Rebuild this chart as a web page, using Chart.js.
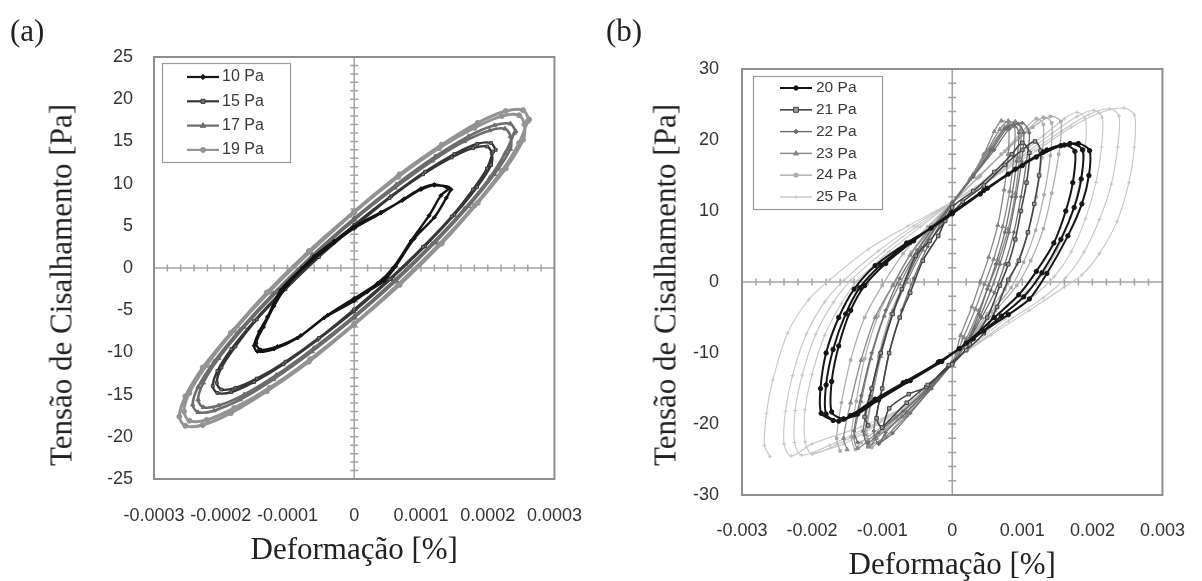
<!DOCTYPE html>
<html><head><meta charset="utf-8">
<script src="https://cdn.jsdelivr.net/npm/chart.js@4.4.1/dist/chart.umd.min.js"></script>
<style>
html,body{margin:0;padding:0;background:#fff;}
#wrap{position:relative;width:1202px;height:581px;overflow:hidden;background:#fff;}
canvas{position:absolute;top:0;}
.lbl{position:absolute;font-family:"Liberation Serif","Times New Roman",serif;font-size:31px;color:#222;line-height:1;white-space:nowrap;}
.ytitle{transform:translate(-50%,-50%) rotate(-90deg);}
</style></head>
<body><div id="wrap">
<canvas id="ca" width="600" height="581" style="left:0"></canvas>
<canvas id="cb" width="602" height="581" style="left:600px"></canvas>
<div class="lbl" style="left:10px;top:15px">(a)</div>
<div class="lbl" style="left:606px;top:15px">(b)</div>
<div class="lbl ytitle" style="left:61px;top:285px">Tensão de Cisalhamento [Pa]</div>
<div class="lbl ytitle" style="left:665px;top:285px">Tensão de Cisalhamento [Pa]</div>
</div>
<script>
// ---------- Panel (a) data: [strain, stress] ----------
const a10 = [[1.45e-4,9.3],[1.38e-4,8.3],[1.2e-4,6.0],[0.9e-4,3.5],[0.62e-4,0.2],[0.45e-4,-1.5],[0.2e-4,-2.8],[0,-3.9],[-0.45e-4,-5.9],[-0.85e-4,-8.3],[-1.2e-4,-9.6],[-1.45e-4,-9.9],[-1.5e-4,-9.2],[-1.42e-4,-7.5],[-1.3e-4,-5.8],[-1.1e-4,-2.6],[-0.78e-4,0],[-0.6e-4,1.4],[-0.3e-4,3.2],[0,4.9],[0.4e-4,6.6],[0.72e-4,8.0],[1.0e-4,9.3],[1.2e-4,9.8],
[1.42e-4,9.5],[1.3e-4,8.6],[1.12e-4,6.2],[0.85e-4,3.2],[0.58e-4,0],[0.35e-4,-1.8],[0,-3.6],[-0.4e-4,-5.6],[-0.8e-4,-8.0],[-1.15e-4,-9.3],[-1.4e-4,-9.7],[-1.47e-4,-8.9],[-1.36e-4,-7.0],[-1.2e-4,-4.5],[-1.0e-4,-2.0],[-0.72e-4,0.3],[-0.3e-4,3.0],[0,4.7],[0.4e-4,6.5],[0.75e-4,8.2],[1.0e-4,9.4],[1.2e-4,9.9],[1.38e-4,9.6]];
const a15 = [[2.12e-4,14.0],[2.05e-4,14.8],[1.84e-4,14.7],[1.5e-4,13.5],[1.06e-4,11.4],[0.55e-4,8.5],[0,5.1],[-0.55e-4,1.3],[-1.06e-4,-2.6],[-1.5e-4,-6.3],[-1.84e-4,-9.6],[-2.05e-4,-12.2],[-2.12e-4,-14.0],[-2.05e-4,-14.8],[-1.84e-4,-14.7],[-1.5e-4,-13.5],[-1.06e-4,-11.4],[-0.55e-4,-8.5],[0,-5.1],[0.55e-4,-1.3],[1.06e-4,2.6],[1.5e-4,6.3],[1.84e-4,9.6],[2.05e-4,12.2],
[2.06e-4,13.6],[1.99e-4,14.4],[1.78e-4,14.2],[1.46e-4,13.1],[1.03e-4,11.1],[0.53e-4,8.3],[0,4.9],[-0.53e-4,1.3],[-1.03e-4,-2.5],[-1.46e-4,-6.1],[-1.78e-4,-9.3],[-1.99e-4,-11.8],[-2.06e-4,-13.6],[-1.99e-4,-14.4],[-1.78e-4,-14.2],[-1.46e-4,-13.1],[-1.03e-4,-11.1],[-0.53e-4,-8.3],[0,-4.9],[0.53e-4,-1.3],[1.03e-4,2.5],[1.46e-4,6.1],[1.78e-4,9.3],[1.99e-4,11.8],[2.08e-4,13.8]];
const a17 = [[2.42e-4,16.2],[2.34e-4,17.1],[2.1e-4,16.9],[1.71e-4,15.6],[1.21e-4,13.2],[0.63e-4,9.9],[0,5.9],[-0.63e-4,1.5],[-1.21e-4,-3.0],[-1.71e-4,-7.3],[-2.1e-4,-11.1],[-2.34e-4,-14.1],[-2.42e-4,-16.2],[-2.34e-4,-17.1],[-2.1e-4,-16.9],[-1.71e-4,-15.6],[-1.21e-4,-13.2],[-0.63e-4,-9.9],[0,-5.9],[0.63e-4,-1.5],[1.21e-4,3.0],[1.71e-4,7.3],[2.1e-4,11.1],[2.34e-4,14.1],
[2.34e-4,15.6],[2.26e-4,16.5],[2.03e-4,16.3],[1.65e-4,15.0],[1.17e-4,12.7],[0.61e-4,9.5],[0,5.7],[-0.61e-4,1.4],[-1.17e-4,-2.9],[-1.65e-4,-7.0],[-2.03e-4,-10.7],[-2.26e-4,-13.6],[-2.34e-4,-15.6],[-2.26e-4,-16.5],[-2.03e-4,-16.3],[-1.65e-4,-15.0],[-1.17e-4,-12.7],[-0.61e-4,-9.5],[0,-5.7],[0.61e-4,-1.4],[1.17e-4,2.9],[1.65e-4,7.0],[2.03e-4,10.7],[2.26e-4,13.6],[2.4e-4,16.0]];
const a19 = [[2.62e-4,17.6],[2.53e-4,18.7],[2.27e-4,18.6],[1.85e-4,17.2],[1.31e-4,14.6],[0.68e-4,11.1],[0,6.7],[-0.68e-4,2.0],[-1.31e-4,-2.9],[-1.85e-4,-7.7],[-2.27e-4,-11.8],[-2.53e-4,-15.2],[-2.62e-4,-17.6],[-2.53e-4,-18.7],[-2.27e-4,-18.6],[-1.85e-4,-17.2],[-1.31e-4,-14.6],[-0.68e-4,-11.1],[0,-6.7],[0.68e-4,-2.0],[1.31e-4,2.9],[1.85e-4,7.7],[2.27e-4,11.8],[2.53e-4,15.2],
[2.55e-4,17.0],[2.47e-4,18.1],[2.21e-4,18.0],[1.8e-4,16.6],[1.27e-4,14.2],[0.66e-4,10.8],[0,6.6],[-0.66e-4,1.9],[-1.27e-4,-2.8],[-1.8e-4,-7.4],[-2.21e-4,-11.5],[-2.47e-4,-14.8],[-2.55e-4,-17.0],[-2.47e-4,-18.1],[-2.21e-4,-18.0],[-1.8e-4,-16.6],[-1.27e-4,-14.2],[-0.66e-4,-10.8],[0,-6.6],[0.66e-4,-1.9],[1.27e-4,2.8],[1.8e-4,7.4],[2.21e-4,11.5],[2.47e-4,14.8],[2.6e-4,17.4]];

// ---------- Panel (b) data ----------
const b20 = [[-1.7e-3,-19.5],[-1.87e-3,-18.5],[-1.88e-3,-15],[-1.8e-3,-10],[-1.62e-3,-5],[-1.4e-3,-1],[-1.1e-3,2.3],[-0.65e-3,5.5],[-0.3e-3,7.6],[0,9.6],[0.4e-3,12.4],[0.8e-3,15.2],[1.2e-3,17.6],[1.55e-3,19.2],[1.8e-3,19.5],[1.96e-3,18.5],[1.95e-3,15],[1.85e-3,11],[1.65e-3,6.5],[1.35e-3,1.2],[1.1e-3,-2.4],[0.8e-3,-4.6],[0.45e-3,-6.9],[0.1e-3,-9.4],[-0.2e-3,-11.3],[-0.7e-3,-14.2],[-1.1e-3,-16.5],[-1.45e-3,-18.8],
[-1.62e-3,-19.6],[-1.8e-3,-18.6],[-1.8e-3,-14.5],[-1.7e-3,-9.5],[-1.52e-3,-4.5],[-1.32e-3,-0.8],[-1.02e-3,2.4],[-0.6e-3,5.6],[0,9.7],[0.45e-3,12.9],[0.9e-3,15.9],[1.3e-3,18.3],[1.68e-3,19.5],[1.86e-3,18.6],[1.84e-3,14.5],[1.74e-3,10.5],[1.55e-3,6],[1.28e-3,1.3],[1.02e-3,-2.1],[0.7e-3,-4.8],[0.3e-3,-8],[-0.18e-3,-11.2],[-0.65e-3,-14],[-1.08e-3,-16.6],[-1.4e-3,-18.7],
[-1.55e-3,-19.3],[-1.72e-3,-18.3],[-1.72e-3,-14],[-1.62e-3,-9],[-1.45e-3,-4],[-1.25e-3,-0.5],[-0.95e-3,2.6],[-0.55e-3,5.8],[0,9.8],[0.5e-3,13.2],[1.0e-3,16.4],[1.35e-3,18.6],[1.6e-3,19.3],[1.75e-3,18.4],[1.72e-3,14],[1.62e-3,10],[1.45e-3,5.5],[1.2e-3,1.5],[0.95e-3,-1.8],[0.6e-3,-5],[0.2e-3,-8.6],[-0.15e-3,-11.2],[-0.6e-3,-13.9],[-1.05e-3,-16.6],[-1.35e-3,-18.6],[-1.55e-3,-19.3]];
const b21 = [[-1.2e-3,-20.2],[-1.25e-3,-19],[-1.15e-3,-15],[-1.02e-3,-10],[-0.85e-3,-4.5],[-0.72e-3,-1],[-0.52e-3,3.7],[-0.32e-3,5.8],[-0.1e-3,8.6],[0.15e-3,11.3],[0.45e-3,13.6],[0.75e-3,16.5],[1.0e-3,18.6],[1.18e-3,19.8],[1.26e-3,18.5],[1.24e-3,15],[1.17e-3,11],[1.08e-3,7],[0.95e-3,3],[0.8e-3,0.3],[0.64e-3,-3.5],[0.45e-3,-7.2],[0.2e-3,-9.6],[-0.05e-3,-11.7],[-0.37e-3,-14.8],[-0.62e-3,-15.8],[-0.9e-3,-17.8],
[-1.0e-3,-20.5],[-1.08e-3,-19.2],[-1.0e-3,-15],[-0.9e-3,-10],[-0.75e-3,-5],[-0.6e-3,-1.5],[-0.42e-3,3],[-0.2e-3,6.5],[0,10.5],[0.3e-3,12.8],[0.6e-3,15.5],[0.85e-3,18],[1.0e-3,19.6],[1.1e-3,18.2],[1.06e-3,14],[0.98e-3,10],[0.9e-3,6],[0.8e-3,2.5],[0.68e-3,-0.5],[0.5e-3,-5],[0.25e-3,-8.8],[0,-11.6],[-0.35e-3,-14.5],[-0.65e-3,-17],[-1.0e-3,-20.5]];
const b22 = [[-1.35e-3,-22.6],[-1.4e-3,-21],[-1.3e-3,-16],[-1.15e-3,-10],[-0.95e-3,-4],[-0.75e-3,0.5],[-0.5e-3,4.5],[-0.25e-3,8],[0,11.2],[0.3e-3,15],[0.55e-3,18.6],[0.75e-3,21.6],[0.88e-3,22.2],[0.95e-3,21],[0.92e-3,17],[0.85e-3,12],[0.75e-3,7],[0.62e-3,2.5],[0.5e-3,-1],[0.38e-3,-4.5],[0.2e-3,-8.5],[0,-11.5],[-0.35e-3,-15],[-0.7e-3,-18.2],[-1.05e-3,-21.2],
[-1.2e-3,-22.7],[-1.27e-3,-21],[-1.17e-3,-16],[-1.03e-3,-10],[-0.84e-3,-4],[-0.65e-3,0.5],[-0.43e-3,4.8],[-0.2e-3,8.2],[0,11.1],[0.3e-3,14.9],[0.57e-3,18.6],[0.78e-3,21.6],[0.94e-3,22.3],[1.02e-3,21],[0.99e-3,17],[0.91e-3,12],[0.81e-3,7],[0.68e-3,2.5],[0.55e-3,-1.2],[0.4e-3,-4.8],[0.2e-3,-8.6],[0,-11.5],[-0.32e-3,-15],[-0.65e-3,-18.3],[-0.95e-3,-21.2],
[-1.05e-3,-22.8],[-1.12e-3,-21],[-1.02e-3,-16],[-0.9e-3,-10],[-0.72e-3,-4],[-0.55e-3,0.5],[-0.35e-3,5],[-0.15e-3,8.5],[0,11],[0.3e-3,14.8],[0.6e-3,18.6],[0.82e-3,21.6],[1.0e-3,22.4],[1.1e-3,21],[1.06e-3,17],[0.98e-3,12],[0.88e-3,7],[0.75e-3,2.5],[0.6e-3,-1.5],[0.42e-3,-5],[0.2e-3,-8.8],[0,-11.5],[-0.3e-3,-15],[-0.6e-3,-18.5],[-0.85e-3,-21.3],[-1.05e-3,-22.8]];
const b23 = [[-1.5e-3,-23.6],[-1.55e-3,-22],[-1.45e-3,-17],[-1.3e-3,-11],[-1.1e-3,-5],[-0.85e-3,-0.5],[-0.6e-3,3.8],[-0.3e-3,7.6],[0,11],[0.25e-3,14.5],[0.45e-3,18],[0.6e-3,21.2],[0.7e-3,22.7],[0.8e-3,22.2],[0.8e-3,18],[0.74e-3,13],[0.65e-3,8],[0.52e-3,3.5],[0.4e-3,0],[0.28e-3,-3.5],[0.12e-3,-7.5],[0,-11.3],[-0.4e-3,-15.5],[-0.8e-3,-19],[-1.2e-3,-22.3],
[-1.35e-3,-23.4],[-1.4e-3,-21.8],[-1.3e-3,-16.8],[-1.16e-3,-10.8],[-0.97e-3,-4.8],[-0.75e-3,-0.3],[-0.51e-3,4.1],[-0.25e-3,7.9],[0,11.1],[0.28e-3,14.8],[0.5e-3,18.5],[0.68e-3,21.5],[0.8e-3,22.7],[0.89e-3,21.9],[0.88e-3,17.8],[0.82e-3,12.8],[0.72e-3,7.8],[0.59e-3,3.2],[0.46e-3,-0.3],[0.33e-3,-3.8],[0.16e-3,-7.8],[0,-11.3],[-0.35e-3,-15.2],[-0.72e-3,-18.9],[-1.08e-3,-22],
[-1.2e-3,-23.2],[-1.25e-3,-21.5],[-1.15e-3,-16.5],[-1.02e-3,-10.5],[-0.85e-3,-4.5],[-0.65e-3,0],[-0.42e-3,4.5],[-0.2e-3,8.2],[0,11.2],[0.3e-3,15.2],[0.55e-3,19],[0.75e-3,21.8],[0.9e-3,22.6],[0.98e-3,21.5],[0.96e-3,17.5],[0.9e-3,12.5],[0.8e-3,7.5],[0.66e-3,3],[0.52e-3,-0.5],[0.38e-3,-4],[0.2e-3,-8],[0,-11.4],[-0.3e-3,-15],[-0.65e-3,-18.8],[-0.95e-3,-21.8],[-1.2e-3,-23.2]];
const b24 = [[-1.6e-3,-23.8],[-1.65e-3,-22],[-1.58e-3,-17],[-1.45e-3,-11],[-1.25e-3,-5],[-1.0e-3,-0.5],[-0.7e-3,4],[-0.35e-3,7.8],[0,11.2],[0.4e-3,15],[0.8e-3,18.8],[1.15e-3,21.8],[1.4e-3,23.3],[1.55e-3,22.6],[1.52e-3,18],[1.42e-3,12.5],[1.3e-3,7.5],[1.12e-3,3],[0.92e-3,-0.5],[0.62e-3,-4],[0.3e-3,-7.6],[0,-11.3],[-0.45e-3,-15.8],[-0.9e-3,-19.6],[-1.3e-3,-22.6],
[-1.38e-3,-23.6],[-1.44e-3,-21.8],[-1.37e-3,-16.8],[-1.25e-3,-10.8],[-1.06e-3,-4.8],[-0.84e-3,-0.3],[-0.58e-3,4.2],[-0.28e-3,8.1],[0,11.1],[0.38e-3,14.8],[0.75e-3,18.4],[1.08e-3,21.5],[1.3e-3,23.2],[1.42e-3,22.4],[1.4e-3,17.8],[1.31e-3,12.3],[1.19e-3,7.3],[1.02e-3,2.8],[0.84e-3,-0.8],[0.56e-3,-4.2],[0.28e-3,-7.8],[0,-11.3],[-0.4e-3,-15.5],[-0.8e-3,-19.3],[-1.12e-3,-22.2],
[-1.15e-3,-23.3],[-1.22e-3,-21.5],[-1.15e-3,-16.5],[-1.05e-3,-10.5],[-0.88e-3,-4.5],[-0.68e-3,0],[-0.45e-3,4.5],[-0.2e-3,8.4],[0,11],[0.35e-3,14.6],[0.7e-3,18],[1.0e-3,21.2],[1.2e-3,23],[1.3e-3,22.2],[1.28e-3,17.5],[1.2e-3,12],[1.08e-3,7],[0.92e-3,2.5],[0.75e-3,-1],[0.5e-3,-4.5],[0.25e-3,-8],[0,-11.4],[-0.35e-3,-15.3],[-0.7e-3,-19],[-0.95e-3,-21.8],[-1.15e-3,-23.3]];
const b25 = [[-2.6e-3,-24.6],[-2.68e-3,-23],[-2.65e-3,-18.5],[-2.56e-3,-13.8],[-2.35e-3,-7.2],[-2.05e-3,-2.5],[-1.75e-3,0.3],[-1.2e-3,4.6],[-0.63e-3,7.9],[0,11.3],[0.6e-3,14.8],[1.2e-3,18.5],[1.7e-3,21.8],[2.1e-3,23.8],[2.45e-3,24.5],[2.6e-3,23.5],[2.6e-3,19],[2.52e-3,14],[2.35e-3,8.5],[2.1e-3,4],[1.85e-3,1],[1.6e-3,-0.7],[1.1e-3,-4],[0.55e-3,-7.5],[0,-11.3],[-0.63e-3,-17.2],[-1.3e-3,-20.4],[-2.0e-3,-22.8],
[-2.3e-3,-24.5],[-2.4e-3,-22.8],[-2.38e-3,-18.2],[-2.28e-3,-13.2],[-2.08e-3,-7.3],[-1.82e-3,-2.8],[-1.55e-3,0.2],[-1.05e-3,4.4],[-0.55e-3,7.9],[0,11.3],[0.55e-3,14.6],[1.1e-3,18.2],[1.55e-3,21.2],[1.95e-3,23.6],[2.25e-3,24.4],[2.38e-3,23.4],[2.36e-3,19],[2.27e-3,13.8],[2.1e-3,8.8],[1.88e-3,4.2],[1.62e-3,0.6],[1.3e-3,-2.2],[0.8e-3,-5.5],[0.38e-3,-8.5],[0,-11.3],[-0.58e-3,-16.8],[-1.2e-3,-20.4],[-1.75e-3,-23],
[-2.15e-3,-24.4],[-2.25e-3,-22.6],[-2.24e-3,-18.1],[-2.14e-3,-13.1],[-1.95e-3,-7.4],[-1.7e-3,-2.9],[-1.45e-3,0.2],[-0.97e-3,4.35],[-0.5e-3,7.85],[0,11.25],[0.5e-3,14.4],[1.0e-3,17.8],[1.42e-3,20.9],[1.78e-3,23.3],[2.02e-3,24.2],[2.14e-3,23.2],[2.13e-3,19],[2.05e-3,14],[1.9e-3,8.9],[1.7e-3,4.3],[1.46e-3,0.8],[1.18e-3,-1.8],[0.75e-3,-5.2],[0.36e-3,-8.4],[0,-11.3],[-0.55e-3,-16.5],[-1.12e-3,-20.2],[-1.65e-3,-22.9],
[-2.0e-3,-24.2],[-2.1e-3,-22.5],[-2.1e-3,-18],[-2.0e-3,-13],[-1.82e-3,-7.5],[-1.58e-3,-3],[-1.35e-3,0.2],[-0.9e-3,4.3],[-0.45e-3,7.8],[0,11.2],[0.45e-3,14.2],[0.9e-3,17.4],[1.3e-3,20.6],[1.6e-3,23],[1.78e-3,23.9],[1.9e-3,23],[1.9e-3,19],[1.82e-3,14],[1.68e-3,9],[1.5e-3,4.5],[1.28e-3,1],[1.05e-3,-1.5],[0.7e-3,-5],[0.35e-3,-8.3],[0,-11.3],[-0.5e-3,-16.2],[-1.05e-3,-20],[-1.55e-3,-22.8],[-2.0e-3,-24.2]];

// ---------- ticks ----------
const xTickValsA = [-3e-4,-2e-4,-1e-4,0,1e-4,2e-4,3e-4];
const xTickLabelsA = ['-0.0003','-0.0002','-0.0001','0','0.0001','0.0002','0.0003'];
const yTickValsA = [-25,-20,-15,-10,-5,0,5,10,15,20,25];
const yTickLabelsA = ['-25','-20','-15','-10','-5','0','5','10','15','20','25'];
const xTickValsB = [-3e-3,-2e-3,-1e-3,0,1e-3,2e-3,3e-3];
const xTickLabelsB = ['-0.003','-0.002','-0.001','0','0.001','0.002','0.003'];
const yTickValsB = [-30,-20,-10,0,10,20,30];
const yTickLabelsB = ['-30','-20','-10','0','10','20','30'];
const seriesA = ['10 Pa','15 Pa','17 Pa','19 Pa'];
const seriesB = ['20 Pa','21 Pa','22 Pa','23 Pa','24 Pa','25 Pa'];

function drawMark(ctx, style, r, x, y, fill, stroke, bw) {
  ctx.save();
  ctx.fillStyle = fill; ctx.strokeStyle = stroke; ctx.lineWidth = bw;
  ctx.beginPath();
  if (style === 'circle') ctx.arc(x, y, r, 0, Math.PI * 2);
  else if (style === 'rect') ctx.rect(x - r, y - r, 2 * r, 2 * r);
  else if (style === 'rectRot') { ctx.moveTo(x, y - r * 1.3); ctx.lineTo(x + r * 1.3, y); ctx.lineTo(x, y + r * 1.3); ctx.lineTo(x - r * 1.3, y); ctx.closePath(); }
  else if (style === 'triangle') { ctx.moveTo(x, y - r * 1.2); ctx.lineTo(x + r * 1.1, y + r * 0.7); ctx.lineTo(x - r * 1.1, y + r * 0.7); ctx.closePath(); }
  else if (style === 'cross') { ctx.moveTo(x - r, y); ctx.lineTo(x + r, y); ctx.moveTo(x, y - r); ctx.lineTo(x, y + r); }
  if (style !== 'cross') ctx.fill();
  ctx.stroke();
  ctx.restore();
}

const framePlugin = {
  id: 'frame',
  beforeDatasetsDraw(chart, args, o) {
    const {ctx, chartArea: ca, scales: {x, y}} = chart;
    ctx.save();
    const x0 = x.getPixelForValue(0), y0 = y.getPixelForValue(0);
    ctx.strokeStyle = '#a3a3a3'; ctx.lineWidth = 1.5;
    ctx.beginPath();
    ctx.moveTo(x0, ca.top); ctx.lineTo(x0, ca.bottom);
    ctx.moveTo(ca.left, y0); ctx.lineTo(ca.right, y0);
    const nx = Math.round((x.max - x.min) / o.xStep);
    for (let k = 1; k < nx; k++) { const p = x.getPixelForValue(x.min + k * o.xStep); ctx.moveTo(p, y0 - 3.5); ctx.lineTo(p, y0 + 3.5); }
    const ny = Math.round((y.max - y.min) / o.yStep);
    for (let k = 1; k < ny; k++) { const p = y.getPixelForValue(y.min + k * o.yStep); ctx.moveTo(x0 - 4, p); ctx.lineTo(x0 + 4, p); }
    ctx.stroke();
    ctx.strokeStyle = '#8e8e8e'; ctx.lineWidth = 2;
    ctx.strokeRect(ca.left, ca.top, ca.right - ca.left, ca.bottom - ca.top);
    ctx.restore();
  }
};

const boxLegend = {
  id: 'boxLegend',
  afterDraw(chart, args, o) {
    const {ctx, chartArea: ca} = chart;
    const bx = ca.left + o.dx, by = ca.top + o.dy;
    ctx.save();
    ctx.fillStyle = '#fff';
    ctx.fillRect(bx, by, o.w, o.h);
    ctx.strokeStyle = '#9a9a9a'; ctx.lineWidth = 1.2;
    ctx.strokeRect(bx + 0.5, by + 0.5, o.w, o.h);
    chart.data.datasets.forEach((d, i) => {
      const yy = by + o.first + i * o.step;
      ctx.strokeStyle = d.borderColor; ctx.lineWidth = Math.max(1.4, Math.min(2.2, d.borderWidth));
      ctx.beginPath(); ctx.moveTo(bx + o.l1, yy); ctx.lineTo(bx + o.l2, yy); ctx.stroke();
      drawMark(ctx, d.pointStyle, d.pointRadius, bx + (o.l1 + o.l2) / 2, yy, d.pointBackgroundColor, d.borderColor, 1);
      ctx.fillStyle = '#3a3a3a'; ctx.font = o.font; ctx.textBaseline = 'middle'; ctx.textAlign = 'left';
      ctx.fillText(d.label, bx + o.tx, yy);
    });
    ctx.restore();
  }
};

function ds(label, data, color, width, style, radius, fill) {
  return { label, data, showLine: true, borderColor: color, borderWidth: width, tension: 0.3,
    pointStyle: style, pointRadius: radius, pointBackgroundColor: fill, pointBorderColor: color,
    pointBorderWidth: 1, pointHoverRadius: radius };
}

const tickFont = {family: '"Liberation Sans", Arial, sans-serif', size: 18};
const titleFont = {family: '"Liberation Serif", "Times New Roman", serif', size: 31, lineHeight: 1};

function makeChart(id, datasets, c) {
  return new Chart(document.getElementById(id), {
    type: 'scatter',
    data: { datasets },
    plugins: [framePlugin, boxLegend],
    options: {
      responsive: false, animation: false, devicePixelRatio: 1, events: [],
      layout: { padding: c.pad },
      plugins: { legend: {display: false}, tooltip: {enabled: false}, frame: c.frame, boxLegend: c.legend },
      scales: {
        x: { type: 'linear', min: c.xMin, max: c.xMax,
          afterBuildTicks: s => { s.ticks = c.xVals.map(v => ({value: v})); },
          afterFit: s => { s.height = c.xH; },
          ticks: { callback: (v, i) => c.xLabels[i], font: tickFont, color: '#333', padding: c.xPad, maxRotation: 0, autoSkip: false },
          grid: { display: false }, border: { display: false },
          title: { display: true, text: 'Deformação [%]', font: titleFont, color: '#222', padding: {top: 0, bottom: c.tPad} } },
        y: { type: 'linear', min: c.yMin, max: c.yMax,
          afterBuildTicks: s => { s.ticks = c.yVals.map(v => ({value: v})); },
          afterFit: s => { s.width = c.yW; },
          ticks: { callback: (v, i) => c.yLabels[i], font: tickFont, color: '#333', padding: c.yPad, autoSkip: false },
          grid: { display: false }, border: { display: false } }
      }
    }
  });
}

makeChart('ca', [
  ds(seriesA[0], a10, '#141414', 2.4, 'rectRot', 2, '#141414'),
  ds(seriesA[1], a15, '#363636', 2.4, 'rect', 2, '#777'),
  ds(seriesA[2], a17, '#6c6c6c', 2.6, 'triangle', 2.5, '#6c6c6c'),
  ds(seriesA[3], a19, '#939393', 3, 'circle', 2.5, '#939393')
], { pad: {left: 0, right: 16, top: 57, bottom: 0}, xMin: -3e-4, xMax: 3e-4, yMin: -25, yMax: 25,
  xVals: xTickValsA, xLabels: xTickLabelsA, yVals: yTickValsA, yLabels: yTickLabelsA,
  xH: 102, yW: 154, xPad: 18, yPad: 13, tPad: 15,
  frame: {xStep: 2e-5, yStep: 1},
  legend: {dx: 8, dy: 6, w: 128, h: 99, first: 14, step: 24.3, l1: 25, l2: 57, tx: 60, font: '16px "Liberation Sans", Arial, sans-serif'} });

makeChart('cb', [
  ds(seriesB[0], b20, '#151515', 2, 'circle', 2.2, '#151515'),
  ds(seriesB[1], b21, '#444444', 1.6, 'rect', 2.5, '#9a9a9a'),
  ds(seriesB[2], b22, '#6e6e6e', 1.3, 'rectRot', 1.8, '#6e6e6e'),
  ds(seriesB[3], b23, '#888888', 1.3, 'triangle', 2.3, '#888888'),
  ds(seriesB[4], b24, '#acacac', 1.2, 'rect', 1.8, '#acacac'),
  ds(seriesB[5], b25, '#c6c6c6', 1.1, 'cross', 2, '#c6c6c6')
], { pad: {left: 0, right: 25, top: 69, bottom: 0}, xMin: -3e-3, xMax: 3e-3, yMin: -30, yMax: 30,
  xVals: xTickValsB, xLabels: xTickLabelsB, yVals: yTickValsB, yLabels: yTickLabelsB,
  xH: 86, yW: 142, xPad: 17, yPad: 15, tPad: 0,
  frame: {xStep: 2e-4, yStep: 2},
  legend: {dx: 11, dy: 7, w: 129, h: 133, first: 12, step: 21.8, l1: 27, l2: 59, tx: 63, font: '15.5px "Liberation Sans", Arial, sans-serif'} });
</script>
</body></html>
